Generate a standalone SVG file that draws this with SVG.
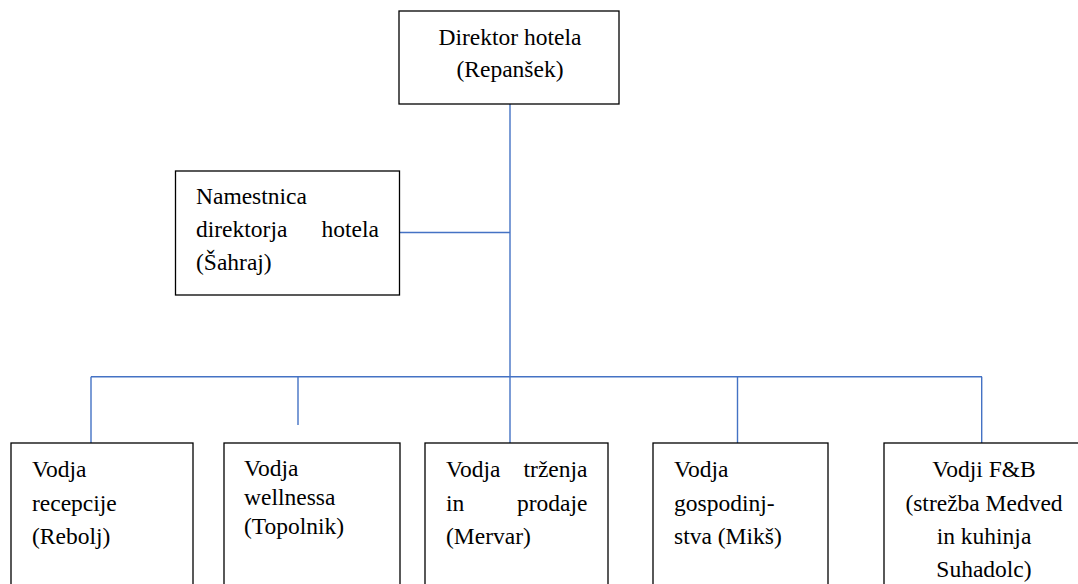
<svg xmlns="http://www.w3.org/2000/svg" width="1078" height="584" viewBox="0 0 1078 584">
  <style>
    .box { fill: #ffffff; stroke: #000000; stroke-width: 1.3; }
    .link { fill: none; stroke: #4472C4; stroke-width: 1.4; }
    text { font-family: "Liberation Serif", "Times New Roman", serif; font-size: 23.5px; fill: #000000; }
    .mid { text-anchor: middle; }
    .end { text-anchor: end; }
  </style>
  <rect width="1078" height="584" fill="#ffffff"/>

  <!-- connectors -->
  <g id="connectors">
    <line class="link" x1="510" y1="104" x2="510" y2="443"/>
    <line class="link" x1="399" y1="232.5" x2="510" y2="232.5"/>
    <line class="link" x1="91" y1="376.7" x2="982" y2="376.7"/>
    <line class="link" x1="91" y1="376.7" x2="91" y2="443"/>
    <line class="link" x1="298" y1="376.7" x2="298" y2="425"/>
    <line class="link" x1="737.5" y1="376.7" x2="737.5" y2="443"/>
    <line class="link" x1="981.7" y1="376.7" x2="981.7" y2="443"/>
  </g>

  <!-- hotel director -->
  <g id="direktor">
    <rect class="box" x="399" y="11" width="220" height="93"/>
    <text class="mid" x="510" y="45">Direktor hotela</text>
    <text class="mid" x="510" y="77">(Repanšek)</text>
  </g>

  <!-- deputy director -->
  <g id="namestnica">
    <rect class="box" x="175.5" y="171" width="224" height="124"/>
    <text x="196" y="204">Namestnica</text>
    <text x="196" y="237">direktorja</text>
    <text class="end" x="379" y="237">hotela</text>
    <text x="196" y="270">(Šahraj)</text>
  </g>

  <!-- department heads -->
  <g id="recepcija">
    <rect class="box" x="11" y="443" width="182" height="160"/>
    <text x="32" y="477.3">Vodja</text>
    <text x="32" y="510.5">recepcije</text>
    <text x="32" y="543.5">(Rebolj)</text>
  </g>

  <g id="wellness">
    <rect class="box" x="224" y="443" width="176" height="160"/>
    <text x="244" y="476">Vodja</text>
    <text x="244" y="505">wellnessa</text>
    <text x="244" y="534">(Topolnik)</text>
  </g>

  <g id="trzenje">
    <rect class="box" x="425" y="443" width="183" height="160"/>
    <text x="446" y="477.3">Vodja</text>
    <text class="end" x="587.5" y="477.3">trženja</text>
    <text x="446" y="510.5">in</text>
    <text class="end" x="587.5" y="510.5">prodaje</text>
    <text x="446" y="543.5">(Mervar)</text>
  </g>

  <g id="gospodinjstvo">
    <rect class="box" x="653" y="443" width="175" height="160"/>
    <text x="674" y="477.3">Vodja</text>
    <text x="674" y="510.5">gospodinj-</text>
    <text x="674" y="543.5">stva (Mikš)</text>
  </g>

  <g id="fb">
    <rect class="box" x="884" y="443" width="200" height="160"/>
    <text class="mid" x="984" y="477.3">Vodji F&amp;B</text>
    <text class="mid" x="984" y="510.5">(strežba Medved</text>
    <text class="mid" x="984" y="543.5">in kuhinja</text>
    <text class="mid" x="984" y="576.5">Suhadolc)</text>
  </g>
</svg>
